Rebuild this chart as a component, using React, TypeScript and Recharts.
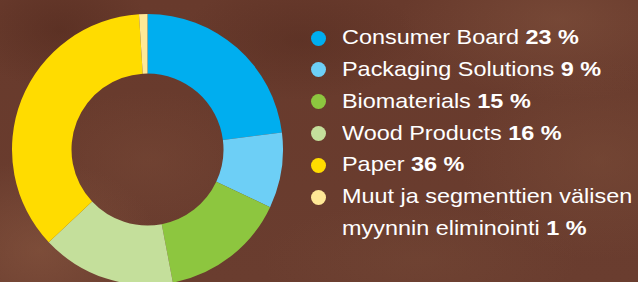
// Segment share of sales: donut + custom legend on a brown textured card.

import React from 'react';
import { PieChart, Pie, Cell, Legend } from 'recharts';

const SEGMENTS = [
  'Consumer Board',
  'Packaging Solutions',
  'Biomaterials',
  'Wood Products',
  'Paper',
  'Muut ja segmenttien välisen\nmyynnin eliminointi',
];
const SHARES = [23, 9, 15, 16, 36, 1];
const COLORS = ['#00aeef', '#6dcff6', '#8dc63f', '#c4df9b', '#ffdc00', '#ffe896'];

const data = SEGMENTS.map((name, i) => ({ name, value: SHARES[i], color: COLORS[i] }));

const BACKGROUND = [
  'radial-gradient(ellipse 120px 90px at 40px 250px, rgba(140,90,66,0.55), transparent)',
  'radial-gradient(ellipse 160px 80px at 560px 20px, rgba(135,88,66,0.45), transparent)',
  'radial-gradient(ellipse 140px 100px at 600px 160px, rgba(128,82,60,0.4), transparent)',
  'radial-gradient(ellipse 110px 70px at 150px 160px, rgba(125,78,58,0.35), transparent)',
  'radial-gradient(ellipse 160px 60px at 420px 260px, rgba(120,76,56,0.35), transparent)',
  'radial-gradient(ellipse 90px 60px at 60px 30px, rgba(80,40,28,0.5), transparent)',
  'radial-gradient(ellipse 120px 60px at 300px 40px, rgba(82,42,30,0.45), transparent)',
  'linear-gradient(#683a2c, #6a3d2f)',
].join(', ');

const textStyle: React.CSSProperties = {
  display: 'inline-block',
  whiteSpace: 'nowrap',
  transform: 'scaleX(1.115)',
  transformOrigin: 'left center',
};

function SegmentLegend() {
  return (
    <div
      style={{
        fontFamily: '"Liberation Sans", Arial, sans-serif',
        fontSize: 21,
        lineHeight: '31.8px',
        color: '#ffffff',
      }}
    >
      {data.map((d) => {
        const lines = d.name.split('\n');
        return (
          <div key={d.name} style={{ position: 'relative', paddingLeft: 42.3 }}>
            <span
              style={{
                position: 'absolute',
                left: 10.5,
                top: 9.5,
                width: 15,
                height: 15,
                borderRadius: '50%',
                background: d.color,
              }}
            />
            {lines.map((line, j) => (
              <div key={j}>
                <span style={textStyle}>
                  {line}
                  {j === lines.length - 1 && <b>{` ${d.value} %`}</b>}
                </span>
              </div>
            ))}
          </div>
        );
      })}
    </div>
  );
}

export default function App() {
  return (
    <div
      style={{
        position: 'fixed',
        left: 0,
        top: 0,
        width: 638,
        height: 282,
        overflow: 'hidden',
        background: BACKGROUND,
      }}
    >
      <PieChart width={638} height={282} margin={{ top: 0, right: 0, bottom: 0, left: 0 }}>
        <Pie
          data={data}
          dataKey="value"
          nameKey="name"
          cx={147.5}
          cy={149.5}
          innerRadius={76}
          outerRadius={135.5}
          startAngle={90}
          endAngle={-270}
          stroke="none"
          isAnimationActive={false}
        >
          {data.map((entry, i) => (
            <Cell key={`seg-${i}`} fill={entry.color} />
          ))}
        </Pie>
        <Legend
          layout="vertical"
          align="right"
          verticalAlign="top"
          content={<SegmentLegend />}
          wrapperStyle={{ left: 300, top: 21.2, width: 338 }}
        />
      </PieChart>
    </div>
  );
}
